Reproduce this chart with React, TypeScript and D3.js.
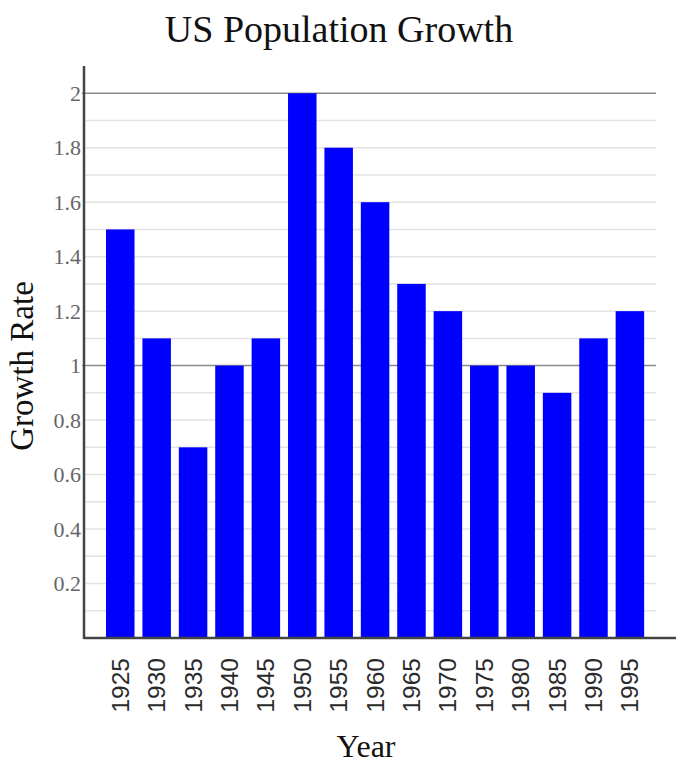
import { useEffect, useRef } from 'react';
import * as d3 from 'd3';

const years = ['1925', '1930', '1935', '1940', '1945', '1950', '1955', '1960', '1965', '1970', '1975', '1980', '1985', '1990', '1995'];
const growthRates = [1.5, 1.1, 0.7, 1.0, 1.1, 2.0, 1.8, 1.6, 1.3, 1.2, 1.0, 1.0, 0.9, 1.1, 1.2];
const yTicks = [0.2, 0.4, 0.6, 0.8, 1, 1.2, 1.4, 1.6, 1.8, 2];
const gridValues = d3.range(1, 21).map(i => i / 10);
const majorLines = [1, 2];

const width = 682;
const height = 778;

export default function App() {
  const svgRef = useRef<SVGSVGElement>(null);

  useEffect(() => {
    if (!svgRef.current) return;
    const svg = d3.select(svgRef.current);
    svg.selectAll('*').remove();

    const left = 84;
    const gridRight = 656;
    const axisRight = 676;
    const bottom = 638;
    const top = 66;
    const serif = '"Liberation Serif", "Times New Roman", serif';

    const x = d3.scaleBand<string>()
      .domain(years)
      .range([left, gridRight])
      .paddingInner(0.217)
      .paddingOuter(0.465)
      .align(0.65);

    const y = d3.scaleLinear()
      .domain([0, 2.1])
      .range([bottom, top]);

    // Title
    svg.append('text')
      .attr('x', 339)
      .attr('y', 42)
      .attr('text-anchor', 'middle')
      .attr('font-family', serif)
      .attr('font-size', '38px')
      .attr('fill', '#111')
      .text('US Population Growth');

    // Minor grid
    svg.append('g')
      .selectAll('line')
      .data(gridValues.filter(v => !majorLines.some(m => Math.abs(m - v) < 1e-9)))
      .join('line')
      .attr('x1', left)
      .attr('x2', gridRight)
      .attr('y1', d => y(d))
      .attr('y2', d => y(d))
      .attr('stroke', '#e3e3e3')
      .attr('stroke-width', 1.5);

    // Major grid
    svg.append('g')
      .selectAll('line')
      .data(majorLines)
      .join('line')
      .attr('x1', left - 2)
      .attr('x2', gridRight)
      .attr('y1', d => y(d))
      .attr('y2', d => y(d))
      .attr('stroke', '#8a8a8a')
      .attr('stroke-width', 1.5);

    // Bars
    svg.append('g')
      .selectAll('rect')
      .data(years.map((yr, i) => ({ yr, v: growthRates[i] })))
      .join('rect')
      .attr('x', d => x(d.yr) || 0)
      .attr('y', d => y(d.v))
      .attr('width', x.bandwidth())
      .attr('height', d => bottom - y(d.v))
      .attr('fill', '#0000ff');

    // Y tick labels
    svg.append('g')
      .selectAll('text')
      .data(yTicks)
      .join('text')
      .attr('x', left - 3)
      .attr('y', d => y(d))
      .attr('dy', '0.35em')
      .attr('text-anchor', 'end')
      .attr('font-family', serif)
      .attr('font-size', '22px')
      .attr('fill', '#666')
      .text(d => String(d));

    // Axes lines
    svg.append('line')
      .attr('x1', left)
      .attr('x2', left)
      .attr('y1', top)
      .attr('y2', bottom + 1)
      .attr('stroke', '#444')
      .attr('stroke-width', 2.5);

    svg.append('line')
      .attr('x1', left)
      .attr('x2', axisRight)
      .attr('y1', bottom)
      .attr('y2', bottom)
      .attr('stroke', '#444')
      .attr('stroke-width', 2.5);

    // X tick labels
    svg.append('g')
      .selectAll('text')
      .data(years)
      .join('text')
      .attr('transform', d => `translate(${(x(d) || 0) + x.bandwidth() / 2},658) rotate(-90)`)
      .attr('dy', '0.35em')
      .attr('text-anchor', 'end')
      .attr('font-family', '"Liberation Sans", Arial, sans-serif')
      .attr('font-size', '24.5px')
      .attr('fill', '#2a2a2a')
      .text(d => d);

    // Axis titles
    svg.append('text')
      .attr('x', 366)
      .attr('y', 757)
      .attr('text-anchor', 'middle')
      .attr('font-family', serif)
      .attr('font-size', '32px')
      .attr('fill', '#111')
      .text('Year');

    svg.append('text')
      .attr('transform', 'translate(33,366) rotate(-90)')
      .attr('text-anchor', 'middle')
      .attr('font-family', serif)
      .attr('font-size', '33px')
      .attr('fill', '#111')
      .text('Growth Rate');
  }, []);

  return (
    <svg
      ref={svgRef}
      width={width}
      height={height}
      style={{ position: 'absolute', left: 0, top: 0, background: '#fff' }}
    />
  );
}
